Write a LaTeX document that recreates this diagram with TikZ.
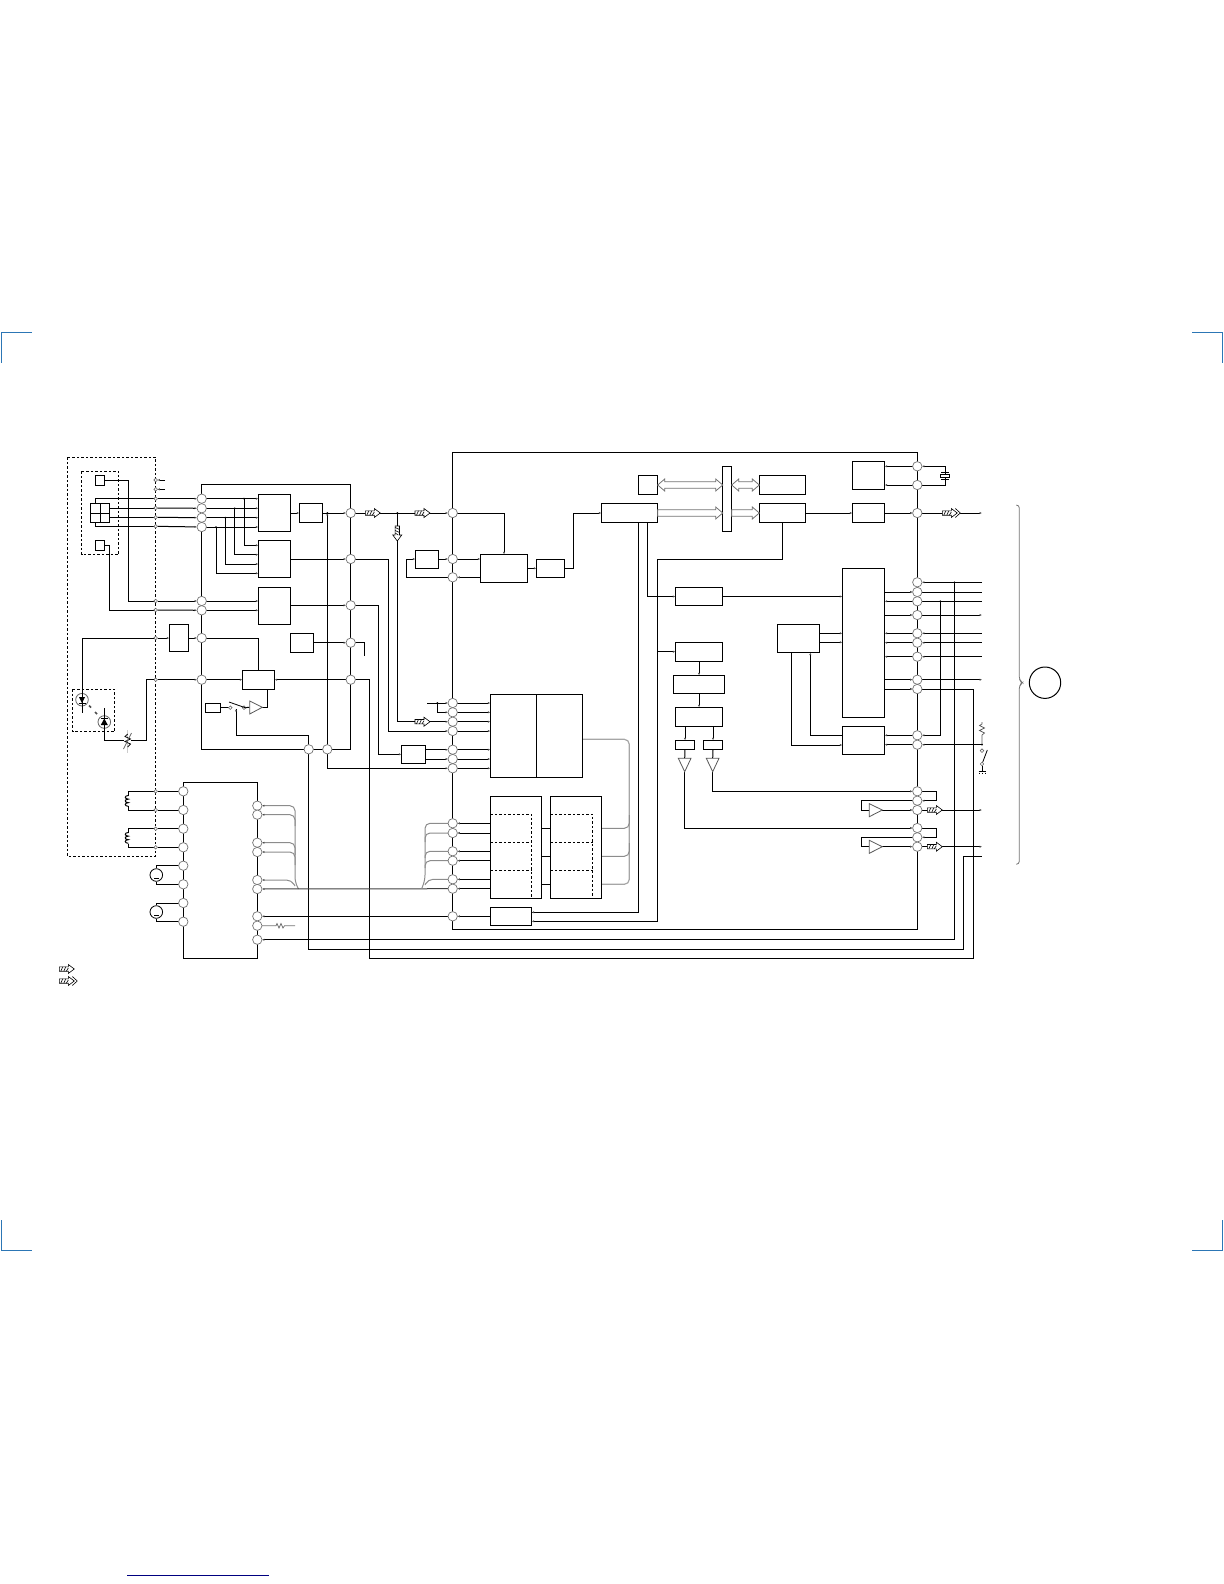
\documentclass[tikz,border=0pt]{standalone}
\usetikzlibrary{arrows.meta,backgrounds,calc}
\tikzset{
  x=0.5pt,y=-0.5pt,
  w/.style={line width=0.5pt,black},
  a/.style={-{Latex[length=1.2pt,width=1.1pt,black!70]}},
  ra/.style={{Latex[length=1.2pt,width=1.1pt,black!70]}-},
  gw/.style={line width=0.5pt,black!45,rounded corners=2.5pt},
  bx/.style={draw=black,line width=0.5pt,fill=white,inner sep=0pt,outer sep=0pt,rectangle},
  cir/.style={circle,draw=black!55,line width=0.35pt,fill=white,minimum size=4.7pt,inner sep=0pt,outer sep=0pt},
  pin/.style={circle,draw=black!60,line width=0.3pt,fill=white,minimum size=1.8pt,inner sep=0pt,outer sep=0pt},
  dsh/.style={line width=0.5pt,dash pattern=on 1.25pt off 1pt},
  hol/.style={draw=black!55,line width=0.4pt,fill=white},
  tri/.style={draw=black!65,line width=0.4pt,fill=white},
  ha/.style={draw=black,line width=0.3pt,fill=white},
  crop/.style={line width=0.55pt,draw=cyan!60!blue!85!black},
  harrow/.pic={\draw[ha] (0,-2.2) -- (9,-2.2) -- (9,-4.5) -- (15,0) -- (9,4.5) -- (9,2.2) -- (0,2.2) -- cycle;
    \draw[ha] (1.5,2.2)--(3.5,-2.2) (4.5,2.2)--(6.5,-2.2) (7,2.2)--(9,-1);},
  harrowtwo/.pic={\draw[ha] (13,-4.5) -- (18,0) -- (13,4.5);
    \draw[ha] (0,-2.2) -- (9,-2.2) -- (9,-4.5) -- (15,0) -- (9,4.5) -- (9,2.2) -- (0,2.2) -- cycle;
    \draw[ha] (1.5,2.2)--(3.5,-2.2) (4.5,2.2)--(6.5,-2.2) (7,2.2)--(9,-1);},
  coil/.pic={\draw[w] (0,0) .. controls (-4,0) and (-4,3.6) .. (0,3.6) .. controls (-4,3.6) and (-4,7.2) .. (0,7.2) .. controls (-4,7.2) and (-4,10.8) .. (0,10.8);},
}
\newcommand\blk[5]{\node[bx,minimum width={(#4-#2)*0.5pt},minimum height={(#5-#3)*0.5pt}] (#1) at ({(#2+#4)/2},{(#3+#5)/2}) {};}
\newcommand\holtwo[2]{\draw[hol] (#1) -- ($(#1)+(7,-6)$) -- ($(#1)+(7,-3.3)$) -- ($(#2)+(-7,-3.3)$) -- ($(#2)+(-7,-6)$) -- (#2) -- ($(#2)+(-7,6)$) -- ($(#2)+(-7,3.3)$) -- ($(#1)+(7,3.3)$) -- ($(#1)+(7,6)$) -- cycle;}
\newcommand\holone[2]{\draw[hol] (#1) ++(0,-3.3) -- ($(#2)+(-7,-3.3)$) -- ($(#2)+(-7,-6)$) -- (#2) -- ($(#2)+(-7,6)$) -- ($(#2)+(-7,3.3)$) -- ($(#1)+(0,3.3)$) -- cycle;}
\newcommand\jd[1]{\fill[black] (#1) circle (0.5pt);}
\begin{document}
\begin{tikzpicture}
\useasboundingbox (0,0) rectangle (1224,1584);
% crop marks and foot rule
\draw[crop] (32,332.7) -- (1.5,332.7) -- (1.5,363);
\draw[crop] (1192,332.7) -- (1222.7,332.7) -- (1222.7,363);
\draw[crop] (1.5,1220) -- (1.5,1250.7) -- (32,1250.7);
\draw[crop] (1192,1250.7) -- (1222.7,1250.7) -- (1222.7,1220);
\draw[line width=0.6pt,blue!50!black] (127,1575.3) -- (269,1575.3);
% dashed frames
\draw[dsh] (67.3,457.3) rectangle (155.7,856.3);
\draw[dsh] (81.7,471.3) rectangle (118.7,554.7);
\draw[dsh] (72.7,689.3) rectangle (114.7,731.7);
% blocks
\blk{sqT}{95.3}{475.3}{104.7}{485.3}
\blk{sqB}{95.3}{540.3}{104.7}{550.3}
\blk{qd}{90.3}{503.3}{109.7}{522.7}
\draw[w] (qd.north) -- (qd.south) (qd.west) -- (qd.east);
\blk{bA}{258.3}{494.3}{290.7}{531.7}
\blk{bB}{258.3}{540.3}{290.7}{577.7}
\blk{bC}{258.3}{587.3}{290.7}{624.3}
\blk{bD}{299.3}{503.3}{322.7}{522.7}
\blk{bE}{290.3}{633.3}{313.7}{652.3}
\blk{bF}{169.3}{624.3}{188.7}{651.7}
\blk{bG}{242.3}{670.3}{274.7}{689.7}
\blk{bH}{205.3}{703.3}{220.7}{712.7}
\blk{bI}{401.3}{745.3}{425.7}{763.7}
\blk{bL}{415.3}{550.3}{438.7}{568.7}
\blk{bK}{480.3}{554.3}{527.7}{582.7}
\blk{bJ}{536.3}{559.3}{564.7}{577.3}
\blk{drv}{183.3}{782.3}{257.3}{958.3}
\blk{dA}{490.3}{694.3}{582.7}{777.3}
\draw[w] (536.3,694.3) -- (536.3,777.3);
\blk{eA}{490.3}{796.3}{541.7}{898.3}
\blk{eB}{550.3}{796.3}{601.7}{898.3}
\blk{bf}{490.3}{907.3}{531.7}{925.7}
\blk{bg}{601.3}{503.3}{657.7}{522.7}
\blk{bm}{638.7}{475.3}{657.7}{494.7}
\blk{bar}{722.7}{466.3}{731.7}{531.3}
\blk{bn}{759.3}{475.3}{805.7}{494.7}
\blk{bo}{759.3}{503.3}{805.7}{522.7}
\blk{bp}{852.3}{503.3}{884.7}{522.7}
\blk{bq}{852.3}{461.3}{884.7}{489.7}
\blk{br}{675.3}{587.3}{722.7}{605.7}
\blk{bt}{842.3}{568.3}{884.7}{717.3}
\blk{bu}{777.3}{624.3}{819.7}{652.7}
\blk{bv}{842.3}{726.3}{884.7}{754.3}
\blk{bw}{675.3}{642.3}{722.7}{661.7}
\blk{bx}{673.3}{675.3}{724.7}{693.7}
\blk{by}{675.3}{707.3}{722.7}{726.7}
\blk{sa}{675.3}{740.3}{694.7}{749.7}
\blk{sb}{703.3}{740.3}{722.7}{749.7}
% dashed subdivisions
\draw[dsh] (490.3,814.3) -- (531.7,814.3) -- (531.7,898.3) (490.3,842.3) -- (531.7,842.3) (490.3,870.3) -- (531.7,870.3);
\draw[dsh] (550.3,814.3) -- (592.7,814.3) -- (592.7,898.3) (550.3,842.3) -- (592.7,842.3) (550.3,870.3) -- (592.7,870.3);
% terminals
\foreach \n/\y in {a/480,b/489.3,1/498.7,2/508,3/517.3,4/526.3,5/601,6/610,7/638,8/679.7,9/791.3,10/810,11/828.7,12/847.3}
  \node[pin] (P\n) at (155.7,\y) {};
\foreach \n/\y in {1/498.7,2/508.3,3/517.7,4/527,5/601,6/610.3,7/638,8/679.7}
  \node[cir] (A\n) at (201.7,\y) {};
\foreach \n/\y in {1/513,2/559,3/605.3,4/642.7,5/679.7}
  \node[cir] (B\n) at (350.7,\y) {};
\node[cir] (G1) at (308.7,749.3) {};
\node[cir] (G2) at (327.3,749.3) {};
\foreach \n/\y in {1/513,2/559,3/577.3,4/703,5/712.3,6/721.7,7/731,8/749.7,9/759,10/768.3,11/823.3,12/833,13/851.3,14/860.7,15/879.3,16/888.7,17/916.3}
  \node[cir] (C\n) at (452.7,\y) {};
\foreach \n/\y in {1/466.3,2/485,3/513,4/582.3,5/592,6/601.3,7/615,8/633.3,9/642.7,10/656.7,11/679.7,12/689,13/735.3,14/744.7,15/791.3,16/800.7,17/810,18/828,19/837.3,20/846.7}
  \node[cir] (D\n) at (917.3,\y) {};
\foreach \n/\y in {1/791.3,2/810,3/828.7,4/847.3,5/865.7,6/884.3,7/903,8/921.7}
  \node[cir] (L\n) at (183.3,\y) {};
\foreach \n/\y in {1/805.7,2/814.7,3/842.7,4/852,5/880,6/889,7/916.3,8/925.7,9/939.7}
  \node[cir] (R\n) at (257.3,\y) {};
\node[pin] (swa) at (230.3,707.7) {};
\node[pin] (swb) at (244,707.7) {};
\node[circle,draw=black!60,line width=0.4pt,fill=white,minimum size=6.3pt,inner sep=0pt] (ld) at (82,699.7) {};
\node[circle,draw=black!60,line width=0.4pt,fill=white,minimum size=6.3pt,inner sep=0pt] (pd) at (104.3,722) {};
\node[circle,draw=black,line width=0.4pt,fill=white,minimum size=6.3pt,inner sep=0pt] (ma) at (156.3,875) {};
\node[circle,draw=black,line width=0.4pt,fill=white,minimum size=6.3pt,inner sep=0pt] (mb) at (156.3,912) {};
\node[circle,draw=black,line width=0.5pt,minimum size=15.7pt,inner sep=0pt] (conn) at (1045,682.7) {};
% triangles and amplifiers
\draw[tri] (249.7,701) -- (249.7,714) -- (262.3,707.3) -- cycle;
\coordinate (ampo) at (262.3,707.3);
\coordinate (ampi) at (249.7,707.3);
\draw[tri] (678.3,758.3) -- (691,758.3) -- (684.7,771.7) -- cycle;
\draw[tri] (706.3,758.3) -- (719,758.3) -- (712.7,771.7) -- cycle;
\coordinate (taI) at (684.7,758.3); \coordinate (taO) at (684.7,771.7);
\coordinate (tbI) at (712.7,758.3); \coordinate (tbO) at (712.7,771.7);
\draw[tri] (869.3,803.7) -- (869.3,816.7) -- (882.3,810) -- cycle;
\draw[tri] (869.3,840.3) -- (869.3,853.3) -- (882.3,846.7) -- cycle;
\coordinate (aaI) at (869.3,810); \coordinate (aaO) at (882.3,810);
\coordinate (abI) at (869.3,846.7); \coordinate (abO) at (882.3,846.7);
\begin{scope}[on background layer]
% rails
\draw[w] (A8.center) -- (201.7,484.3) -- (350.7,484.3) -- (350.7,749.3) -- (201.7,749.3) -- (A8.center);
\draw[w] (452.7,452.3) -- (917.5,452.3) -- (917.5,929.3) -- (452.7,929.3) -- cycle;
\draw[w] (L1.center) -- (L8.center) (R1.center) -- (R9.center);
% sensor wiring
\draw[w] (sqT.east) -- (128.7,0 |- sqT.east) |- (P5);
\draw[w] (sqB.east) -- (109.7,0 |- sqB.east) |- (P6);
\draw[w] (qd.north -| 95.3,0) |- (P1);
\draw[w] (qd.east |- P2) -- (P2);
\draw[w] (qd.east |- P3) -- (P3);
\draw[w] (qd.south -| 95.3,0) |- (P4);
\foreach \i in {1,...,6} \draw[w,a] (P\i) -- (A\i);
\draw[w,a] (165,480) -- (Pa);
\draw[w,a] (165,489.3) -- (Pb);
\foreach \i in {1,...,6} \draw[w,a] (A\i) -- (258.3,0 |- A\i);
\draw[w,a] (244,498.7) |- (258.3,545.3);
\draw[w,a] (234.7,508.3) |- (258.3,554.7);
\draw[w,a] (225.3,517.7) |- (258.3,564);
\draw[w,a] (216,527) |- (258.3,573.3);
\draw[w,a] (bA.east |- bD.west) -- (bD.west);
\draw[w,a] (bD.east) -- (B1);
\draw[w,a] (bB.east |- B2) -- (B2);
\draw[w,a] (bC.east |- B3) -- (B3);
\draw[w,a] (bE.east |- B4) -- (B4);
\draw[w] (B4) -- (364.3,0 |- B4) -- (364.3,656);
% laser path
\draw[w,a] (P7) -- (bF.west |- P7);
\draw[w,a] (bF.east |- A7) -- (A7);
\draw[w] (A7) -| (bG.north);
\draw[w,a] (A8) -- (bG.west |- A8);
\draw[w,ra] (bG.east |- B5) -- (B5);
\draw[w,a] (P8) -- (A8);
\draw[w] (bH.east |- swa) -- (swa);
\draw[w] (swb) -- (ampi);
\draw[w] (ampo) -- (267.3,0 |- ampo) -- (267.3,0 |- bG.south);
\draw[w] (236,709.3) |- (308.7,735.3) -- (G1);
% main bus
\draw[w,a] (B1) -- (C1);
\draw[w,a] (397.3,513) |- (C6);
\draw[w,a] (G2) -- (327.3,513);
\draw[w,a] (G2) |- (C10);
\draw[w] (G1) -- (308.7,949.3) -- (963.3,949.3) -- (963.3,856) -- (982,856);
\draw[w,a] (B2) -- (388.7,0 |- B2) |- (C7);
\draw[w,a] (B3) -- (378.7,0 |- B3) |- (bI.west |- 0,754.3);
\draw[w,a] (bI.east |- C8) -- (C8);
\draw[w,a] (bI.east |- C9) -- (C9);
\foreach \i in {4,...,10} \draw[w,a] (C\i) -- (490.3,0 |- C\i);
\draw[w,a] (427,703) -- (C4);
\draw[w,a] (437.3,703) |- (C5);
\draw[w] (B5) -- (369.7,0 |- B5) -- (369.7,958.3) -- (973.5,958.3) -- (973.5,0 |- D12) -- (D12);
\draw[w,ra] (R9) -- (954.5,0 |- R9) -- (954.5,0 |- D4);
% read channel
\draw[w,a] (C1) -| (bK.north);
\draw[w,a] (C2) -- (bK.west |- C2);
\draw[w,a] (bK.west |- C3) -- (C3);
\draw[w,a] (bL.east |- C2) -- (C2);
\draw[w,a] (C3) -- (406.3,0 |- C3) |- (bL.west |- C2);
\draw[w,a] (bK.east |- bJ.west) -- (bJ.west);
\draw[w,a] (bJ.east) -- (573.3,0 |- bJ.east) |- (bg.west);
\draw[w] (bg.south -| 638.7,0) -- (638.7,912.3) -- (531.7,912.3);
\draw[w,a] (638.7,912.3) -- (bf.east |- 0,912.3);
\draw[w,a] (bg.south -| 647.3,0) |- (br.west);
\draw[w,a] (bo.south) |- (657.7,559) -- (657.7,921.3) -- (bf.east |- 0,921.3);
\draw[w,a] (657.7,651.7) -- (bw.west |- 0,651.7);
\draw[w,a] (br.east) -- (bt.west |- br.east);
\draw[w,a] (bw.south) -- (bx.north);
\draw[w,a] (bx.south) -- (by.north);
\draw[w,a] (sa.north |- by.south) -- (sa.north);
\draw[w,a] (sb.north |- by.south) -- (sb.north);
\draw[w] (sa.south) -- (taI);
\draw[w] (sb.south) -- (tbI);
\draw[w,a] (tbO) |- (D15);
\draw[w,a] (taO) |- (D18);
\draw[w,a] (D15) -- (936.7,0 |- D15) -- (936.7,0 |- D16) -- (D16);
\draw[w,a] (D18) -- (936.7,0 |- D18) -- (936.7,0 |- D19) -- (D19);
\draw[w] (D16) -- (861.3,0 |- D16) |- (aaI);
\draw[w] (D19) -- (861.3,0 |- D19) |- (abI);
\draw[w,a] (aaO) -- (D17);
\draw[w,a] (abO) -- (D20);
\draw[w,a] (D17) -- (982,0 |- D17);
\draw[w,a] (D20) -- (982,0 |- D20);
\draw[w,a] (bo.east) -- (bp.west);
\draw[w,a] (bp.east) -- (D3);
\draw[w,a] (D3) -- (982,0 |- D3);
\draw[w,ra] (bq.east |- D1) -- (D1);
\draw[w,ra] (bq.east |- D2) -- (D2);
\draw[w,ra] (D1) -- (945.7,0 |- D1) -- (945.7,0 |- D2) -- (D2);
% control block
\draw[w,a] (982,0 |- D4) -- (D4);
\draw[w,a] (bt.east |- D5) -- (D5);
\draw[w] (D5) -- (982,0 |- D5);
\draw[w,ra] (bt.east |- D6) -- (D6);
\draw[w] (D6) -- (982,0 |- D6);
\draw[w,a] (bt.east |- D7) -- (D7);
\draw[w,a] (D7) -- (982,0 |- D7);
\draw[w,ra] (bt.east |- D8) -- (D8);
\draw[w,ra] (D8) -- (982,0 |- D8);
\draw[w,ra] (bt.east |- D9) -- (D9);
\draw[w,ra] (D9) -- (982,0 |- D9);
\draw[w,ra] (bt.east |- D10) -- (D10);
\draw[w,ra] (D10) -- (982,0 |- D10);
\draw[w,a] (bt.east |- D11) -- (D11);
\draw[w,a] (D11) -- (982,0 |- D11);
\draw[w,a] (bt.east |- D12) -- (D12);
\draw[w,ra] (bv.east |- D13) -- (D13);
\draw[w,ra] (bv.east |- D14) -- (D14);
\draw[w,ra] (D13) -- (940.3,0 |- D13) -- (940.3,0 |- D6);
\draw[w,ra] (D14) -- (982,0 |- D14);
\draw[w,ra] (bt.west |- 0,633.3) -- (bu.east |- 0,633.3);
\draw[w,a] (bu.east |- 0,642.3) -- (bt.west |- 0,642.3);
\draw[w,a] (791.7,652.7) |- (bv.west |- 0,745);
\draw[w,a] (bv.west |- 0,735.3) -| (810.3,652.7);
% memory
\foreach \i in {11,...,16} \draw[w,a] (eA.west |- C\i) -- (C\i);
\draw[w,a] (bf.west |- C17) -- (C17);
\draw[w,a] (eB.west |- 0,828.3) -- (531.7,828.3);
\draw[w,a] (eB.west |- 0,856.3) -- (531.7,856.3);
\draw[w,a] (eB.west |- 0,884.3) -- (531.7,884.3);
\draw[w,ra] (R7) -- (C17);
% motor drive
\foreach \i/\j in {9/1,10/2,11/3,12/4} \draw[w] (P\i) -- (L\j);
\draw[w] (P9) -- (128.3,0 |- P9) -- (128.3,796);
\draw[w] (128.3,806) -- (128.3,0 |- P10) -- (P10);
\draw[w] (P11) -- (128.3,0 |- P11) -- (128.3,833);
\draw[w] (128.3,843.5) -- (128.3,0 |- P12) -- (P12);
\draw[w] (L5) -| (ma.north);
\draw[w] (L6) -| (ma.south);
\draw[w] (L7) -| (mb.north);
\draw[w] (L8) -| (mb.south);
% grey harness
\draw[gw,ra] (R1) -- (295,0 |- R1) -- (295,882) -- (298.5,889);
\draw[gw,ra] (R2) -- (295,0 |- R2) -- (295,826);
\draw[gw,ra] (R3) -- (295,0 |- R3) -- (295,855);
\draw[gw,ra] (R4) -- (295,0 |- R4) -- (295,865);
\draw[gw,ra] (R5) -- (291.5,0 |- R5) -- (295,886);
\draw[line width=0.5pt,black!75,ra] (R6) -- (C16);
\draw[gw] (C11) -- (425,0 |- C11) -- (425,880) -- (421.7,888.7);
\draw[gw] (C12) -- (425,0 |- C12) -- (425,842);
\draw[gw] (C13) -- (425,0 |- C13) -- (425,858);
\draw[gw] (C14) -- (425,0 |- C14) -- (425,868);
\draw[gw] (C15) -- (428,0 |- C15) -- (425,885);
\draw[line width=0.4pt,black!55] (R8) -- (276,0 |- R8) -- (277,923.5) -- (279,928) -- (281,923.5) -- (283,928) -- (284.5,925.7) -- (295,925.7);
\draw[gw,black!35,line width=0.6pt] (dA.east |- 0,739.3) -- (629.3,739.3) -- (629.3,884.3) -- (592.7,884.3);
\draw[gw,black!45] (629.3,815) -- (629.3,828.3) -- (592.7,828.3);
\draw[gw,black!45] (629.3,843) -- (629.3,856.3) -- (592.7,856.3);
\end{scope}
% double hollow buses
\coordinate (ma1) at (bm.east); \coordinate (ma2) at (bar.west |- bm.east);
\coordinate (ma3) at (bg.east); \coordinate (ma4) at (bar.west |- bg.east);
\coordinate (ma5) at (bar.east |- bn.west); \coordinate (ma6) at (bn.west);
\coordinate (ma7) at (bar.east |- bo.west); \coordinate (ma8) at (bo.west);
\holtwo{ma1}{ma2}
\holone{ma3}{ma4}
\holtwo{ma5}{ma6}
\holone{ma7}{ma8}
% hatched signal arrows
\path (365.3,513) pic {harrow};
\path (415,513) pic {harrow};
\path (397.3,526) pic[rotate=-90] {harrow};
\path (415,721.7) pic {harrow};
\path (942.3,513) pic {harrowtwo};
\path (927.3,810) pic {harrow};
\path (927.3,846.7) pic {harrow};
\path (59.3,969) pic {harrow};
\path (59.3,981) pic {harrowtwo};
% diodes
\draw[w] (P7) -| (82,712.7);
\fill (79,697) -- (85,697) -- (82,703) -- cycle;
\draw[w] (78.5,703) -- (85.5,703);
\draw[w] (P8) -- (146.7,0 |- P8) -- (146.7,740.3) -- (131,740.3);
\draw[w] (124,740.3) -- (104.3,740.3) -- (104.3,708.3);
\fill (100.8,725) -- (107.8,725) -- (104.3,718.5) -- cycle;
\draw[w] (100.8,718.5) -- (107.8,718.5);
\draw[line width=0.8pt,black!70] (89,705.5) -- (91,707.5) (95,712) -- (97,714);
% variable resistor
\draw[line width=0.7pt,black!20] (127.7,730) -- (127.7,753);
\draw[line width=0.4pt] (127.7,734) -- (125,736.5) -- (130.5,739) -- (125,741.5) -- (130.5,744) -- (127.7,747);
\draw[line width=0.35pt,black!60] (123.5,749) -- (131.5,733);
% switch
\draw[line width=0.4pt] (229,702) -- (246,708);
\draw[w,a] (236,712) -- (236,709);
% coils
\path (128.3,795.5) pic {coil};
\path (128.3,832.5) pic {coil};
\draw[w] (154,878.2) -- (158.6,878.2);
\draw[w] (154,915.5) -- (158.6,915.5);
% crystal
\draw[w,fill=white] (940.5,474.3) rectangle (949.8,477.7);
\draw[w] (941,472.5) -- (949.3,472.5) (941,479.5) -- (949.3,479.5);
% resistor and switch at the connector side
\draw[line width=0.35pt,black!65] (982,722) -- (982,724) -- (979.5,725.5) -- (984.5,728) -- (979.5,730.5) -- (984.5,733) -- (982,735) -- (982,744.7);
\node[pin] (swc) at (982,750.7) {};
\node[pin] (swd) at (982,764) {};
\draw[line width=0.4pt] (swd) -- (987.3,750);
\draw[line width=0.4pt] (swd) -- (982,771) (978.5,771) -- (985.5,771) (979,772.5) -- (979,774) (982,772.5) -- (982,774) (985,772.5) -- (985,774);
\fill (982,744.7) circle (0.5pt);
% brace
\draw[line width=0.4pt,black!55,rounded corners=1.5pt] (1016.3,505) -- (1019.3,505) -- (1019.3,680) -- (1022.7,682.7) -- (1019.3,685.5) -- (1019.3,864.3) -- (1016.3,864.3);
% junction dots
\jd{244,498.7}\jd{234.7,508.3}\jd{225.3,517.7}\jd{216,527}\jd{327.3,513}\jd{397.3,513}\jd{954.5,582.3}\jd{940.3,601.3}\jd{437.3,703}
\end{tikzpicture}
\end{document}
